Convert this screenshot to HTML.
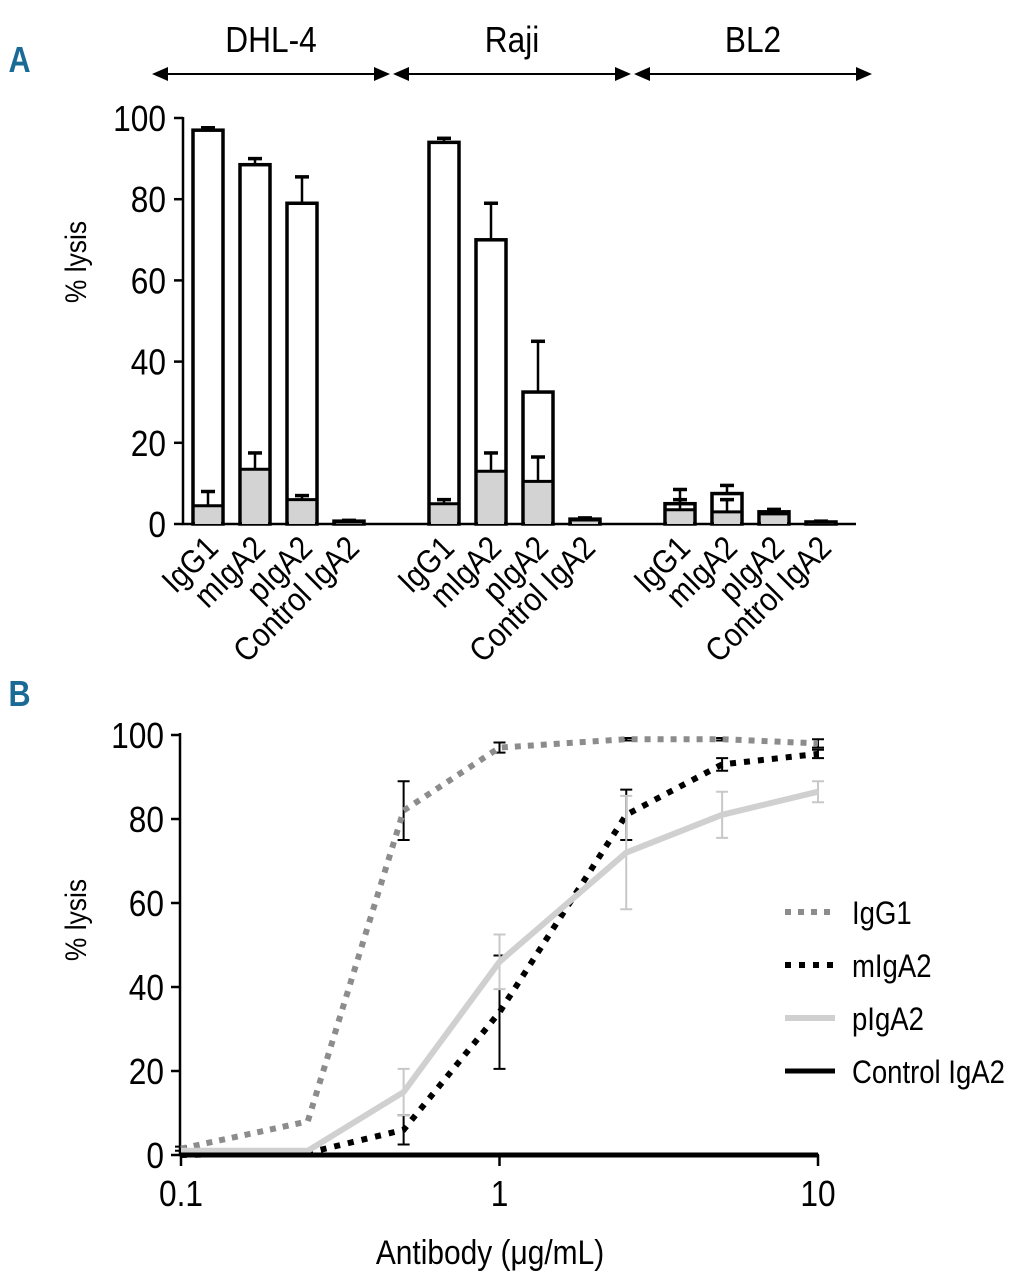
<!DOCTYPE html>
<html><head><meta charset="utf-8"><style>
body{margin:0;background:#fff}
svg{display:block;font-family:"Liberation Sans Narrow","Liberation Sans",sans-serif}
</style></head><body>
<svg width="1018" height="1280" viewBox="0 0 1018 1280">
<g id="A"></g>
<g id="B"></g>
</svg>
<script>
// Panel A data
const groups = ["DHL-4","Raji","BL2"];
const antibodies = ["IgG1","mIgA2","pIgA2","Control IgA2"];
const totalLysis = [[97,88.5,79,0.7],[94,70,32.5,1.2],[5,7.5,3,0.5]];
const totalErr = [[0.6,1.5,6.5,0.2],[1,9,12.5,0.3],[3.5,2,0.6,0.2]];
const baseLysis = [[4.5,13.5,6,0.5],[5,13,10.5,1],[3.5,3,2.5,0.4]];
const baseErr = [[3.5,4,1,0.1],[1,4.5,6,0.2],[2.5,3,0.5,0.1]];
const yTicksA = [0,20,40,60,80,100];
// Panel B data
const doses = [0.1,0.25,0.5,1,2.5,5,10];
const igg1 = [1.5,8,82,97,99,99,98];
const igg1Err = [0.5,0,7,1.2,0.3,0.3,1];
const migA2 = [0,0.5,6,34,81,93,95.5];
const migA2Err = [0,0,3.5,13.5,6,1.5,1];
const pigA2 = [1,1,15,46,72,81,86.5];
const pigA2Err = [0,0,5.5,6.5,13.5,5.5,2.5];
const ctrl = [0,0,0,0,0,0,0];
const yTicksB = [0,20,40,60,80,100];
const xTicksB = [0.1,1,10];

const NS="http://www.w3.org/2000/svg";
function mk(p,tag,at,txt){const e=document.createElementNS(NS,tag);for(const k in at)e.setAttribute(k,at[k]);if(txt!==undefined)e.textContent=txt;p.appendChild(e);return e;}
function txt(p,x,y,size,anchor,rot,str,sx){
  return mk(p,'text',{x:0,y:0,'font-size':size,'text-anchor':anchor,transform:`translate(${x},${y}) rotate(${rot}) scale(${sx||0.8},1)`},str);
}

const A=document.getElementById('A');
const yA=v=>524-v*4.06;
const bx=(g,i)=>193+g*236+i*47; const bw=30;
let t=mk(A,'text',{x:10,y:72,'font-size':36,'font-weight':'bold',fill:'#1a6a96','font-family':'Liberation Sans',transform:'scale(0.85,1)'},'A');

groups.forEach((gname,g)=>{
  const x1=152+g*241, x2=x1+238;
  const l=mk(A,'line',{x1:x1+10,y1:74,x2:x2-10,y2:74,stroke:'#000','stroke-width':2});
  
  mk(A,'polygon',{points:`${x1},74 ${x1+16},67 ${x1+16},81`,fill:'#000'});
  mk(A,'polygon',{points:`${x2},74 ${x2-16},67 ${x2-16},81`,fill:'#000'});
  const tx=txt(A,(x1+x2)/2,52,36,'middle',0,gname,0.88);
  
});
let ax=mk(A,'path',{d:`M183 117 V524 H856`,stroke:'#000','stroke-width':2.5,fill:'none'});

yTicksA.forEach(v=>{
  mk(A,'line',{x1:174,x2:183,y1:yA(v),y2:yA(v),stroke:'#000','stroke-width':2.5});
  const tt=txt(A,166,yA(v)+13,36,'end',0,v,0.88);
  
});
let yl=txt(A,86,262,30,'middle',-90,'% lysis',0.88);

groups.forEach((gname,g)=>antibodies.forEach((ab,i)=>{
  const x=bx(g,i);
  const te=totalLysis[g][i]+totalErr[g][i];
  mk(A,'line',{x1:x+bw/2,x2:x+bw/2,y1:yA(totalLysis[g][i]),y2:yA(te),stroke:'#000','stroke-width':2.5});
  mk(A,'line',{x1:x+bw/2-7,x2:x+bw/2+7,y1:yA(te),y2:yA(te),stroke:'#000','stroke-width':3.5});
  const r=mk(A,'rect',{x:x,y:yA(totalLysis[g][i]),width:bw,height:yA(0)-yA(totalLysis[g][i]),fill:'#fff',stroke:'#000','stroke-width':3.5});
  
  const be=baseLysis[g][i]+baseErr[g][i];
  mk(A,'line',{x1:x+bw/2,x2:x+bw/2,y1:yA(baseLysis[g][i]),y2:yA(be),stroke:'#000','stroke-width':2.5});
  mk(A,'line',{x1:x+bw/2-7,x2:x+bw/2+7,y1:yA(be),y2:yA(be),stroke:'#000','stroke-width':3.5});
  const r2=mk(A,'rect',{x:x+2,y:yA(baseLysis[g][i]),width:bw-4,height:yA(0)-yA(baseLysis[g][i]),fill:'#d3d3d3',stroke:'#000','stroke-width':0});
  mk(A,'line',{x1:x,x2:x+bw,y1:yA(baseLysis[g][i]),y2:yA(baseLysis[g][i]),stroke:'#000','stroke-width':3});
  
  const lb=txt(A,x+bw/2+12,550,33,'end',-45,ab,0.88);
  
}));

// Panel B
const B=document.getElementById('B');
const yB=v=>1155-v*4.2;
const xB=d=>181+Math.log10(d/0.1)*318.5;
t=mk(B,'text',{x:10,y:706,'font-size':36,'font-weight':'bold',fill:'#1a6a96','font-family':'Liberation Sans',transform:'scale(0.85,1)'},'B');

ax=mk(B,'path',{d:`M180 733 V1155 H819`,stroke:'#000','stroke-width':2.5,fill:'none'});

yTicksB.forEach(v=>{
  mk(B,'line',{x1:171,x2:180,y1:yB(v),y2:yB(v),stroke:'#000','stroke-width':2.5});
  const tt=txt(B,164,yB(v)+13,36,'end',0,v,0.88);
  
});
xTicksB.forEach(v=>{
  mk(B,'line',{x1:xB(v),x2:xB(v),y1:1155,y2:1166,stroke:'#000','stroke-width':2.5});
  const tt=txt(B,xB(v),1206,36,'middle',0,v,0.88);
  
});
yl=txt(B,86,920,30,'middle',-90,'% lysis',0.88);

let xl=txt(B,490,1264,34,'middle',0,'Antibody (μg/mL)',0.88);

const series=[
 {name:'IgG1',v:igg1,e:igg1Err,col:'#8c8c8c',dash:'6 7',w:6,ecol:'#000'},
 {name:'mIgA2',v:migA2,e:migA2Err,col:'#000',dash:'6 8',w:6,ecol:'#000'},
 {name:'pIgA2',v:pigA2,e:pigA2Err,col:'#d0d0d0',dash:'',w:6,ecol:'#c8c8c8'},
 {name:'Control IgA2',v:ctrl,e:ctrl,col:'#000',dash:'',w:5,ecol:'#000'}];
series.forEach((s,si)=>{
  s.v.forEach((v,i)=>{ if(s.e[i]>0){
    const x=xB(doses[i]);
    mk(B,'path',{d:`M${x-6} ${yB(v+s.e[i])} H${x+6} M${x} ${yB(v+s.e[i])} V${yB(v-s.e[i])} M${x-6} ${yB(v-s.e[i])} H${x+6}`,stroke:s.ecol,'stroke-width':2,fill:'none'});
  }});
  const p=mk(B,'polyline',{points:s.v.map((v,i)=>xB(doses[i])+','+yB(v)).join(' '),fill:'none',stroke:s.col,'stroke-width':s.w,'stroke-dasharray':s.dash});
  
  const ly=912+si*53;
  const ll=mk(B,'line',{x1:785,x2:835,y1:ly,y2:ly,stroke:s.col,'stroke-width':s.w,'stroke-dasharray':s.dash});
  
  const lt=txt(B,852,ly+12,32,'start',0,s.name,0.86);
  
});
</script>
</body></html>
